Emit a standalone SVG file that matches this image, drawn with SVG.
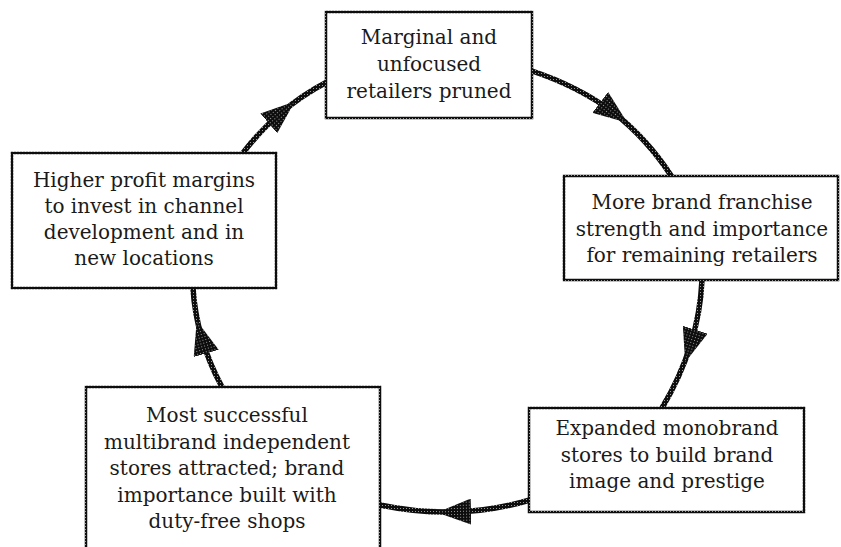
<svg xmlns="http://www.w3.org/2000/svg" width="841" height="547" viewBox="0 0 841 547">
<defs>
<pattern id="ht" width="3" height="3" patternUnits="userSpaceOnUse">
<rect width="3" height="3" fill="#0d0d0d"/>
<rect x="1" y="1" width="1" height="1" fill="#999"/>
</pattern>
<marker id="ah" viewBox="0 0 34 26" refX="16" refY="13" markerWidth="34" markerHeight="26" markerUnits="userSpaceOnUse" orient="auto">
<path d="M0,0 L34,13 L0,26 Z" fill="url(#ht)"/>
</marker>
<style>
.box{fill:#fff;stroke:url(#ht);stroke-width:2.5}
.t{font-family:"DejaVu Serif","Liberation Serif",serif;font-size:20px;fill:#1a1a1a;text-anchor:middle}
.c{fill:none;stroke:url(#ht);stroke-width:5.5;marker-mid:url(#ah)}
</style>
</defs>
<rect width="841" height="547" fill="#fff"/>
<g id="connectors">
<path class="c" d="M243,153 Q260,130.5 281,113 Q302,95 327,82"/>
<path class="c" d="M532,71 Q577.5,86 613,112 Q647.5,139 672,177"/>
<path class="c" d="M702,280 Q700.5,313 690.5,345 Q680.5,377 662,408"/>
<path class="c" d="M530,500 Q492.5,511 455,512 Q417.5,513 380,505"/>
<path class="c" d="M222,387 Q209,363 201.75,338 Q194.5,313 193,288"/>
</g>
<g id="n-top">
<rect class="box" x="326" y="12" width="206" height="106"/>
<text class="t" x="429" y="44">Marginal and</text>
<text class="t" x="429" y="71">unfocused</text>
<text class="t" x="429" y="98">retailers pruned</text>
</g>
<g id="n-right">
<rect class="box" x="564" y="176" width="274" height="104"/>
<text class="t" x="702" y="209">More brand franchise</text>
<text class="t" x="702" y="235.5">strength and importance</text>
<text class="t" x="702" y="262">for remaining retailers</text>
</g>
<g id="n-bottomright">
<rect class="box" x="529" y="408" width="275" height="104"/>
<text class="t" x="667" y="435">Expanded monobrand</text>
<text class="t" x="667" y="461.5">stores to build brand</text>
<text class="t" x="667" y="488">image and prestige</text>
</g>
<g id="n-bottomleft">
<rect class="box" x="86" y="387" width="294" height="175"/>
<text class="t" x="227" y="422">Most successful</text>
<text class="t" x="227" y="448.5">multibrand independent</text>
<text class="t" x="227" y="475">stores attracted; brand</text>
<text class="t" x="227" y="501.5">importance built with</text>
<text class="t" x="227" y="528">duty-free shops</text>
</g>
<g id="n-left">
<rect class="box" x="12" y="153" width="264" height="135"/>
<text class="t" x="144" y="187">Higher profit margins</text>
<text class="t" x="144" y="213">to invest in channel</text>
<text class="t" x="144" y="239">development and in</text>
<text class="t" x="144" y="265">new locations</text>
</g>
</svg>
